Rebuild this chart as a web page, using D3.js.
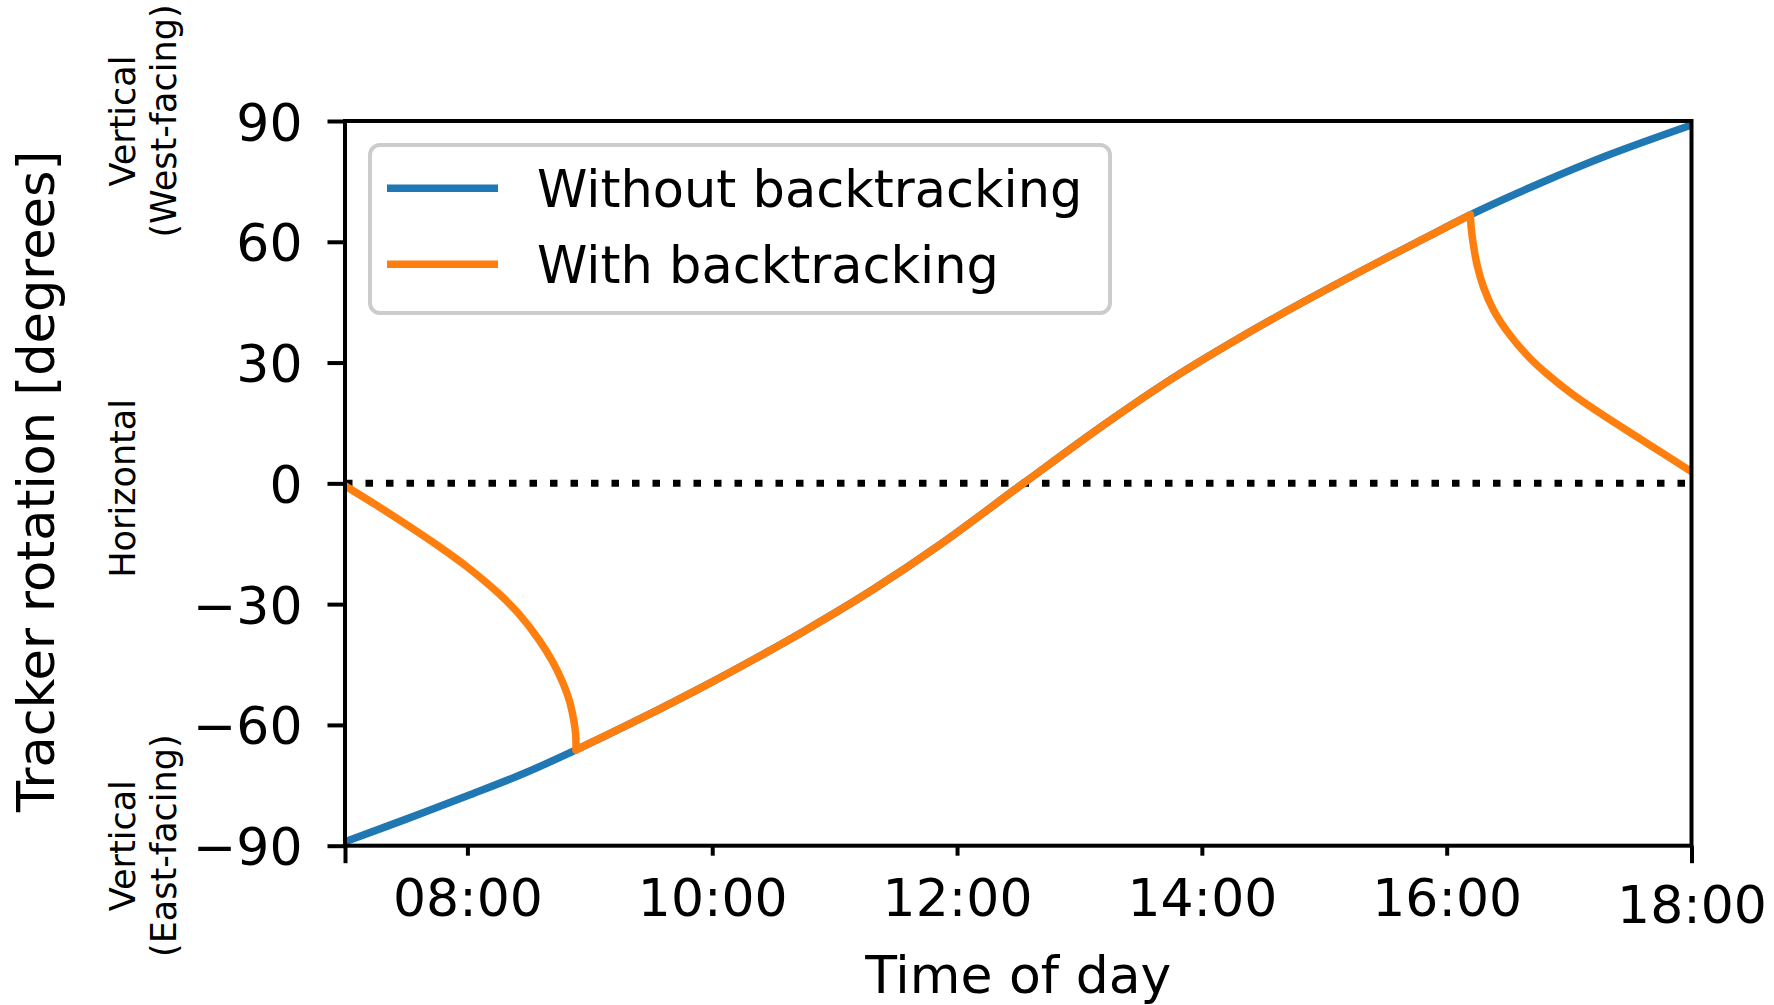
<!DOCTYPE html>
<html>
<head>
<meta charset="utf-8">
<script src="https://cdn.jsdelivr.net/npm/d3@7"></script>
<style>
    html, body { margin: 0; padding: 0; background: #fff; }
    svg { display: block; font-family: "DejaVu Sans", sans-serif; }
</style>
</head>
<body>
<div id="chart"></div>
<script>
// Tracker rotation through the day (degrees)
// Without backtracking (true tracking)
const trueTrackTimes = ["07:00:00", "07:30:00", "08:00:00", "08:27:00", "08:53:15", "09:25:00", "09:57:00",
    "10:14:00", "10:46:00", "11:19:00", "11:52:00", "12:32:30", "13:13:00", "13:46:00", "14:19:00",
    "14:51:00", "15:24:00", "15:57:00", "16:11:35", "16:46:00", "17:18:00", "18:00:00"];
const trueTrackValues = [-89.0, -83.4, -77.6, -72.2, -66.2, -58.4, -50.1,
    -45.5, -36.4, -26.3, -15.1, 0.0, 14.9, 26.2, 36.3,
    45.4, 54.3, 62.9, 66.7, 74.6, 81.3, 89.0];

// With backtracking: morning and evening parts (midday it follows the true tracking)
const morningTimes = ["07:00:00", "07:15:00", "07:30:00", "07:45:00", "08:00:00", "08:15:00", "08:25:00",
    "08:35:00", "08:42:00", "08:47:00", "08:50:00", "08:52:00", "08:53:00", "08:53:15"];
const morningValues = [-0.6, -5.3, -10.2, -15.3, -20.8, -27.2, -32.3,
    -38.8, -44.5, -49.8, -54.0, -58.5, -62.0, -66.2];

const eveningTimes = ["16:11:35", "16:12:00", "16:13:00", "16:15:00", "16:18:00", "16:23:00", "16:30:00",
    "16:40:00", "16:50:00", "17:02:00", "17:18:00", "17:35:00", "18:00:00"];
const eveningValues = [66.7, 63.5, 59.5, 54.0, 48.8, 43.0, 37.5,
    31.5, 26.8, 22.0, 16.5, 11.0, 2.9];

const seriesNames = ["Without backtracking", "With backtracking"];
const seriesColors = ["#1f77b4", "#ff7f0e"];

const yTicks = [-90, -60, -30, 0, 30, 60, 90];
const xLabelTicks = ["08:00", "10:00", "12:00", "14:00", "16:00"];   // short ticks
const xEndTicks = ["07:00", "18:00"];                                 // long ticks
const xEndLabels = ["", "18:00"];

const sideNotes = [
    { value: 90, lines: ["Vertical", "(West-facing)"] },
    { value: 0, lines: ["Horizontal"] },
    { value: -90, lines: ["Vertical", "(East-facing)"] }
];

// Set up dimensions
const width = 1774;
const height = 1005;
const margin = { top: 121, right: 82.5, bottom: 159.3, left: 345 };
const plotW = width - margin.left - margin.right;
const plotH = height - margin.top - margin.bottom;

const parseTime = d3.timeParse("%H:%M");
const parseClock = d3.timeParse("%H:%M:%S");

const svg = d3.select("#chart")
    .append("svg")
    .attr("width", width)
    .attr("height", height);

svg.append("rect")
    .attr("width", width)
    .attr("height", height)
    .attr("fill", "#fff");

svg.append("defs")
    .append("clipPath")
    .attr("id", "plot-clip")
    .append("rect")
    .attr("width", plotW)
    .attr("height", plotH);

const g = svg.append("g")
    .attr("transform", `translate(${margin.left},${margin.top})`);

// Scales
const x = d3.scaleTime()
    .domain([parseTime("07:00"), parseTime("18:00")])
    .range([0, plotW]);

const y = d3.scaleLinear()
    .domain([-90, 90])
    .range([plotH, 0]);

const line = d3.line()
    .x(d => x(d.t))
    .y(d => y(d.v))
    .curve(d3.curveCatmullRom.alpha(0.5));

const toPoints = (times, values) => times.map((t, i) => ({ t: parseClock(t), v: values[i] }));

const trueTrack = toPoints(trueTrackTimes, trueTrackValues);
const morning = toPoints(morningTimes, morningValues);
const evening = toPoints(eveningTimes, eveningValues);
const midday = trueTrack.filter(d => d.t >= morning[morning.length - 1].t && d.t <= evening[0].t);

const plot = g.append("g")
    .attr("clip-path", "url(#plot-clip)");

// Horizontal reference line at 0
plot.append("line")
    .attr("x1", 0)
    .attr("x2", plotW)
    .attr("y1", y(0))
    .attr("y2", y(0))
    .attr("stroke", "#000")
    .attr("stroke-width", 7)
    .attr("stroke-dasharray", "7.5 13");

// Curves: blue first, orange pieces on top
plot.append("path")
    .attr("d", line(trueTrack))
    .attr("fill", "none")
    .attr("stroke", seriesColors[0])
    .attr("stroke-width", 7.5);

plot.append("g")
    .selectAll("path")
    .data([morning, midday, evening])
    .enter()
    .append("path")
    .attr("d", line)
    .attr("fill", "none")
    .attr("stroke", seriesColors[1])
    .attr("stroke-width", 7.5)
    .attr("stroke-linecap", "round")
    .attr("stroke-linejoin", "round");

// Y axis
const yAxis = g.append("g")
    .call(d3.axisLeft(y).tickValues(yTicks).tickSize(17.5).tickPadding(25)
        .tickFormat(d => d3.format("d")(d).replace("-", "\u2212")));
yAxis.select(".domain").remove();
yAxis.selectAll(".tick line").attr("stroke", "#000").attr("stroke-width", 4);
yAxis.selectAll(".tick text")
    .attr("font-size", 52)
    .attr("font-family", "DejaVu Sans")
    .attr("fill", "#000")
    .attr("dy", 19);

// X axis: labelled short ticks
const xAxis = g.append("g")
    .attr("transform", `translate(0,${plotH})`)
    .call(d3.axisBottom(x).tickValues(xLabelTicks.map(parseTime)).tickSize(10).tickPadding(0)
        .tickFormat(d3.timeFormat("%H:%M")));
xAxis.select(".domain").remove();
xAxis.selectAll(".tick line").attr("stroke", "#000").attr("stroke-width", 4);
xAxis.selectAll(".tick text")
    .attr("font-size", 52)
    .attr("font-family", "DejaVu Sans")
    .attr("fill", "#000")
    .attr("y", 70.5)
    .attr("dy", 0);

// X axis: long ticks at both ends
const xEnds = g.append("g")
    .attr("transform", `translate(0,${plotH})`)
    .call(d3.axisBottom(x).tickValues(xEndTicks.map(parseTime)).tickSize(17.5)
        .tickFormat((d, i) => xEndLabels[i]));
xEnds.select(".domain").remove();
xEnds.selectAll(".tick line").attr("stroke", "#000").attr("stroke-width", 4);
xEnds.selectAll(".tick text")
    .attr("font-size", 52)
    .attr("font-family", "DejaVu Sans")
    .attr("fill", "#000")
    .attr("y", 77.8)
    .attr("dy", 0);

// Frame
g.append("rect")
    .attr("width", plotW)
    .attr("height", plotH)
    .attr("fill", "none")
    .attr("stroke", "#000")
    .attr("stroke-width", 4);

// Axis titles
svg.append("text")
    .attr("x", margin.left + plotW / 2)
    .attr("y", 992.7)
    .attr("text-anchor", "middle")
    .attr("font-size", 52)
    .text("Time of day");

svg.append("text")
    .attr("transform", `translate(54,${margin.top + plotH / 2 - 2}) rotate(-90)`)
    .attr("text-anchor", "middle")
    .attr("font-size", 51)
    .text("Tracker rotation [degrees]");

// Orientation notes beside the y axis
const notes = svg.append("g")
    .selectAll("text")
    .data(sideNotes)
    .enter()
    .append("text")
    .attr("transform", d => `translate(135,${margin.top + y(d.value) + (d.lines.length === 1 ? 5 : 0)}) rotate(-90)`)
    .attr("text-anchor", "middle")
    .attr("font-size", 35);

notes.selectAll("tspan")
    .data(d => d.lines)
    .enter()
    .append("tspan")
    .attr("x", 0)
    .attr("y", (d, i) => i * 41)
    .text(d => d);

// Legend
const legend = svg.append("g");
legend.append("rect")
    .attr("x", 370)
    .attr("y", 145)
    .attr("width", 740)
    .attr("height", 168)
    .attr("rx", 10)
    .attr("fill", "#fff")
    .attr("fill-opacity", 0.8)
    .attr("stroke", "#cccccc")
    .attr("stroke-width", 4);

const items = legend.selectAll("g.item")
    .data(seriesNames)
    .enter()
    .append("g")
    .attr("class", "item")
    .attr("transform", (d, i) => `translate(0,${188.3 + i * 76})`);

items.append("line")
    .attr("x1", 387)
    .attr("x2", 498)
    .attr("stroke", (d, i) => seriesColors[i])
    .attr("stroke-width", 7.5);

items.append("text")
    .attr("x", 537)
    .attr("y", 18.5)
    .attr("font-size", 51)
    .text(d => d);
</script>
</body>
</html>
